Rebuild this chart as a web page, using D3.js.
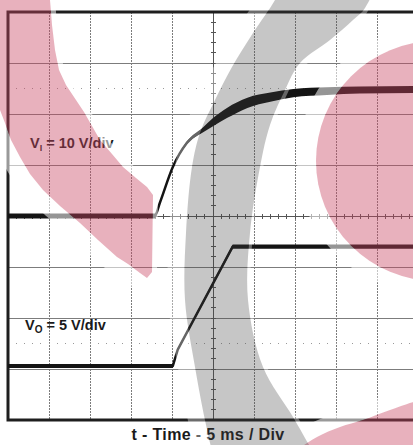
<!DOCTYPE html>
<html>
<head>
<meta charset="utf-8">
<script src="https://cdn.jsdelivr.net/npm/d3@7"></script>
<style>
html, body { margin: 0; padding: 0; background: #fff; }
svg { display: block; }
text { font-family: "Liberation Sans", Arial, sans-serif; font-weight: bold; fill: #1a1a1a; }
</style>
</head>
<body>
<svg id="view" width="413" height="445"></svg>
<script>
var TIME_VI = [0, 17.9, 18.5, 20.1, 21.8, 23.8, 25.0, 26.7, 29.2, 32.0, 34.8, 38.9, 42.9, 50];
var VI = [0, 0, 2.5, 9.6, 14.3, 16.9, 18.4, 20.2, 22.2, 23.3, 24.1, 24.5, 24.7, 24.8];
var VI_NOISE = [0.5, 0.5, 0.2, 0.2, 0.3, 0.5, 0.8, 1.0, 1.0, 0.9, 0.8, 0.75, 0.7, 0.7];
var TIME_VO = [0, 20.1, 20.7, 27.4, 50];
var VO = [0.3, 0.3, 1.9, 12, 12];
var VO_NOISE = [0.2, 0.2, 0.1, 0.2, 0.2];
var VI_LABEL = ["V", "I", " = 10 V/div"];
var VO_LABEL = ["V", "O", " = 5 V/div"];
var X_TITLE = "t - Time - 5 ms / Div";

// CONSTANTS
var PLOT = {left: 8, top: 12, right: 418, bottom: 420};
var MS_PER_DIV = 5;
var VI_PER_DIV = 10;
var VO_PER_DIV = 5;
var TRACE = "#141414";
var GRID = "#7c7c7c";

// watermark outlines, in page pixels
var PINK_BAND = [[50, -5], [50, 0], [52, 25], [55, 50], [59, 70], [66, 85], [76, 100], [84, 112], [100, 140],
    [112, 154], [123, 167], [136, 178], [147, 187], [153, 195], [152, 272], [147, 278], [140, 273], [128, 264],
    [117, 257], [98, 240], [80, 223], [60, 206], [43, 190], [30, 174], [20, 157], [11, 140], [5, 123], [0, 110],
    [-10, 95], [-10, -5]];
var GRAY_OUT = [[282, -15], [275, 0], [253, 33], [232, 67], [215, 100], [200, 133], [192, 167], [186, 233], [185, 300], [195, 367], [205, 420], [212, 450], [216, 460]];
var GRAY_IN = [[372, -15], [365, 8], [353, 20], [330, 40], [300, 63], [285, 90], [270, 125], [260, 167], [250, 233], [248, 300], [263, 367], [293, 417], [312, 450], [318, 460]];
var PINK_SWOOSH = [[290, 460], [298, 450], [317, 437], [340, 427], [363, 420], [390, 410], [420, 400], [430, 398]];
var PINK_DISC = {cx: 436, cy: 161, r: 120};


function createGrid(parent, x, div) {
    var g = parent.append("g").attr("shape-rendering", "crispEdges");
    div.ticks(8).filter(function(d) { return d !== 0 && Math.abs(d) < 4; }).forEach(function(d) {
        g.append("line")
            .attr("x1", PLOT.left).attr("x2", PLOT.right)
            .attr("y1", div(d)).attr("y2", div(d))
            .attr("stroke", GRID).attr("stroke-width", 1);
    });
    x.ticks(10).filter(function(t) { return t > 0 && t < 50 && t !== 25; }).forEach(function(t) {
        g.append("line")
            .attr("x1", x(t)).attr("x2", x(t))
            .attr("y1", PLOT.top).attr("y2", PLOT.bottom)
            .attr("stroke", GRID).attr("stroke-width", 1)
            .attr("stroke-dasharray", "2,1");
    });
    // reference dots at +/- 2.5 div
    [2.5, -2.5].forEach(function(d) {
        d3.range(1, 50, 1).forEach(function(t) {
            g.append("rect")
                .attr("x", x(t) - 0.5).attr("y", div(d) - 0.5)
                .attr("width", 1).attr("height", 1)
                .attr("fill", "#999");
        });
    });
    // center crosshair with minor ticks
    var axis = parent.append("g").attr("stroke", "#555").attr("stroke-width", 1).attr("shape-rendering", "crispEdges");
    axis.append("line")
        .attr("x1", PLOT.left).attr("x2", PLOT.right)
        .attr("y1", div(0)).attr("y2", div(0));
    axis.append("line")
        .attr("x1", x(25)).attr("x2", x(25))
        .attr("y1", PLOT.top).attr("y2", PLOT.bottom);
    d3.range(1, 50, 1).forEach(function(t) {
        axis.append("line")
            .attr("x1", x(t)).attr("x2", x(t))
            .attr("y1", div(0) - 2.5).attr("y2", div(0) + 2.5);
    });
    d3.range(-3.8, 4, 0.2).forEach(function(d) {
        axis.append("line")
            .attr("x1", x(25) - 2.5).attr("x2", x(25) + 2.5)
            .attr("y1", div(d)).attr("y2", div(d));
    });
}

function createTrace(parent, x, y, times, volts, noise, width, curve) {
    var rows = times.map(function(t, i) { return {t: t, v: volts[i], n: noise[i]}; });
    var band = d3.area()
        .curve(curve)
        .x(function(d) { return x(d.t); })
        .y0(function(d) { return y(d.v - d.n); })
        .y1(function(d) { return y(d.v + d.n); });
    var line = d3.line()
        .curve(curve)
        .x(function(d) { return x(d.t); })
        .y(function(d) { return y(d.v); });
    parent.append("path")
        .attr("d", band(rows))
        .attr("fill", TRACE);
    parent.append("path")
        .attr("d", line(rows))
        .attr("fill", "none")
        .attr("stroke", TRACE)
        .attr("stroke-width", width)
        .attr("stroke-linejoin", "round");
}

function createLabel(parent, px, py, parts, size, subSize) {
    var t = parent.append("text")
        .attr("x", px).attr("y", py)
        .attr("font-size", size);
    t.append("tspan").text(parts[0]);
    t.append("tspan").attr("font-size", subSize).attr("dy", 3).text(parts[1]);
    t.append("tspan").attr("dy", -3).text(parts[2]);
}

function discPath(c) {
    return "M" + (c.cx - c.r) + "," + c.cy +
        "a" + c.r + "," + c.r + " 0 1,0 " + (2 * c.r) + ",0" +
        "a" + c.r + "," + c.r + " 0 1,0 " + (-2 * c.r) + ",0Z";
}

function createHalo(parent, shapes, opacity, width) {
    var halo = parent.append("g")
        .attr("clip-path", "url(#outside)")
        .attr("opacity", opacity);
    shapes.forEach(function(d) {
        halo.append("path").attr("d", d)
            .attr("transform", "translate(-7,0)")
            .attr("fill", "none").attr("stroke", "white")
            .attr("stroke-width", width).attr("stroke-linejoin", "round");
    });
}

function createWatermark(parent) {
    var band = d3.line()(PINK_BAND) + "Z";
    var gray = d3.line().curve(d3.curveCatmullRomClosed)(GRAY_OUT.concat(GRAY_IN.slice().reverse()));
    var swoosh = d3.line().curve(d3.curveCatmullRom)(PINK_SWOOSH) + "L430,460Z";
    var disc = discPath(PINK_DISC);

    // clip to everything outside the shapes
    parent.append("defs").append("clipPath").attr("id", "outside")
        .append("path")
        .attr("clip-rule", "evenodd")
        .attr("d", "M-30,-30H450V480H-30Z" + [band, gray, swoosh, disc].join(""));

    // soft white rim, mostly on the left side of each shape
    createHalo(parent, [band, swoosh, disc], 0.55, 24);
    createHalo(parent, [gray], 0.35, 20);

    var pink = parent.append("g").attr("fill", "rgb(200,70,98)").attr("fill-opacity", 0.42);
    pink.append("path").attr("d", band);
    pink.append("path").attr("d", swoosh);
    pink.append("path").attr("d", disc);
    parent.append("path").attr("d", gray)
        .attr("fill", "rgb(65,65,65)").attr("fill-opacity", 0.3);
}


// main
function main() {
    var view = d3.select("#view");
    var x = d3.scaleLinear().domain([0, 10 * MS_PER_DIV]).range([PLOT.left, PLOT.right]);
    var div = d3.scaleLinear().domain([-4, 4]).range([PLOT.bottom, PLOT.top]);
    var yVI = d3.scaleLinear().domain([-4 * VI_PER_DIV, 4 * VI_PER_DIV]).range([PLOT.bottom, PLOT.top]);
    var yVO = d3.scaleLinear().domain([-1 * VO_PER_DIV, 7 * VO_PER_DIV]).range([PLOT.bottom, PLOT.top]);

    createGrid(view, x, div);

    view.append("rect")
        .attr("x", PLOT.left).attr("y", PLOT.top)
        .attr("width", PLOT.right - PLOT.left).attr("height", PLOT.bottom - PLOT.top)
        .attr("fill", "none").attr("stroke", "#1e1e1e").attr("stroke-width", 3);

    createTrace(view, x, yVI, TIME_VI, VI, VI_NOISE, 2.5, d3.curveMonotoneX);
    createTrace(view, x, yVO, TIME_VO, VO, VO_NOISE, 2.5, d3.curveLinear);

    createLabel(view, 30, 148, VI_LABEL, 14.5, 9);
    createLabel(view, 25, 330, VO_LABEL, 14.5, 10);
    view.append("text")
        .attr("x", 208).attr("y", 440)
        .attr("text-anchor", "middle")
        .attr("font-size", 16)
        .attr("letter-spacing", 0.35)
        .text(X_TITLE);

    createWatermark(view);
}

main();
</script>
</body>
</html>
